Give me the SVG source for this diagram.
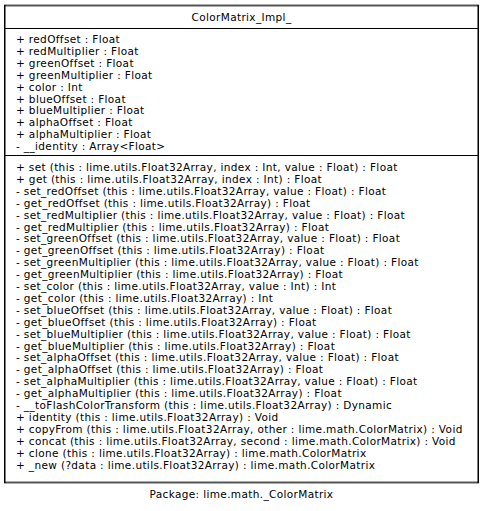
<svg xmlns="http://www.w3.org/2000/svg" width="484" height="511" viewBox="0 0 484 511">
<style>
text{font-family:"DejaVu Sans",sans-serif;font-size:10.5px;letter-spacing:0.36px;fill:#000}
.h{stroke:#555;stroke-width:2}
.v{stroke:#000;stroke-width:1.5}
.d{stroke:#000;stroke-width:1}
</style>
<rect width="484" height="511" fill="#fff"/>
<g id="ColorMatrix_Impl_">
<rect x="4.5" y="5.5" width="474" height="477" fill="#fff"/>
<line class="h" x1="4" y1="5.5" x2="479" y2="5.5"/>
<line class="h" x1="4" y1="482.5" x2="479" y2="482.5"/>
<line class="v" x1="4.75" y1="5" x2="4.75" y2="483"/>
<line class="v" x1="478.25" y1="5" x2="478.25" y2="483"/>
<line class="d" x1="4" y1="28.5" x2="479" y2="28.5"/>
<line class="d" x1="4" y1="155.5" x2="479" y2="155.5"/>
<text x="241.5" y="21" text-anchor="middle">ColorMatrix_Impl_</text>
<text x="16" y="43">+ redOffset : Float</text>
<text x="16" y="55">+ redMultiplier : Float</text>
<text x="16" y="66.8">+ greenOffset : Float</text>
<text x="16" y="78.7">+ greenMultiplier : Float</text>
<text x="16" y="90.6">+ color : Int</text>
<text x="16" y="102.5">+ blueOffset : Float</text>
<text x="16" y="114.4">+ blueMultiplier : Float</text>
<text x="16" y="126.3">+ alphaOffset : Float</text>
<text x="16" y="138.2">+ alphaMultiplier : Float</text>
<text x="16" y="150.1">- __identity : Array&lt;Float&gt;</text>
<text x="16" y="171">+ set (this : lime.utils.Float32Array, index : Int, value : Float) : Float</text>
<text x="16" y="182.9">+ get (this : lime.utils.Float32Array, index : Int) : Float</text>
<text x="16" y="194.8">- set_redOffset (this : lime.utils.Float32Array, value : Float) : Float</text>
<text x="16" y="206.7">- get_redOffset (this : lime.utils.Float32Array) : Float</text>
<text x="16" y="218.6">- set_redMultiplier (this : lime.utils.Float32Array, value : Float) : Float</text>
<text x="16" y="230.5">- get_redMultiplier (this : lime.utils.Float32Array) : Float</text>
<text x="16" y="242.4">- set_greenOffset (this : lime.utils.Float32Array, value : Float) : Float</text>
<text x="16" y="254.3">- get_greenOffset (this : lime.utils.Float32Array) : Float</text>
<text x="16" y="266.2">- set_greenMultiplier (this : lime.utils.Float32Array, value : Float) : Float</text>
<text x="16" y="278.1">- get_greenMultiplier (this : lime.utils.Float32Array) : Float</text>
<text x="16" y="290">- set_color (this : lime.utils.Float32Array, value : Int) : Int</text>
<text x="16" y="301.9">- get_color (this : lime.utils.Float32Array) : Int</text>
<text x="16" y="313.8">- set_blueOffset (this : lime.utils.Float32Array, value : Float) : Float</text>
<text x="16" y="325.7">- get_blueOffset (this : lime.utils.Float32Array) : Float</text>
<text x="16" y="337.6">- set_blueMultiplier (this : lime.utils.Float32Array, value : Float) : Float</text>
<text x="16" y="349.5">- get_blueMultiplier (this : lime.utils.Float32Array) : Float</text>
<text x="16" y="361.4">- set_alphaOffset (this : lime.utils.Float32Array, value : Float) : Float</text>
<text x="16" y="373.3">- get_alphaOffset (this : lime.utils.Float32Array) : Float</text>
<text x="16" y="385.2">- set_alphaMultiplier (this : lime.utils.Float32Array, value : Float) : Float</text>
<text x="16" y="397.1">- get_alphaMultiplier (this : lime.utils.Float32Array) : Float</text>
<text x="16" y="409">- __toFlashColorTransform (this : lime.utils.Float32Array) : Dynamic</text>
<text x="16" y="420.9">+ identity (this : lime.utils.Float32Array) : Void</text>
<text x="16" y="432.8">+ copyFrom (this : lime.utils.Float32Array, other : lime.math.ColorMatrix) : Void</text>
<text x="16" y="444.7">+ concat (this : lime.utils.Float32Array, second : lime.math.ColorMatrix) : Void</text>
<text x="16" y="456.6">+ clone (this : lime.utils.Float32Array) : lime.math.ColorMatrix</text>
<text x="16" y="468.5">+ _new (?data : lime.utils.Float32Array) : lime.math.ColorMatrix</text>
</g>
<text x="241.5" y="498" text-anchor="middle">Package: lime.math._ColorMatrix</text>
</svg>
